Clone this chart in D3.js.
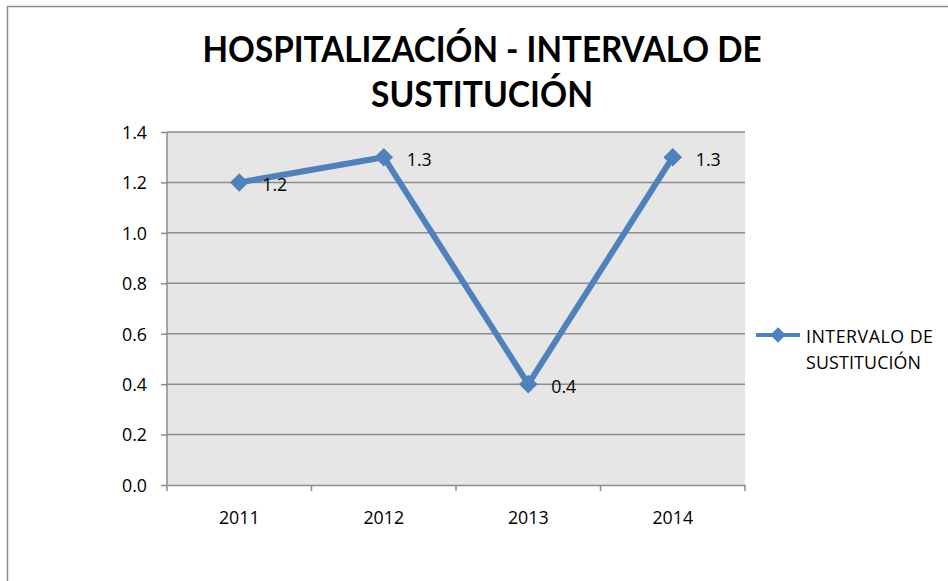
<!DOCTYPE html>
<html>
<head>
<meta charset="utf-8">
<script src="https://cdn.jsdelivr.net/npm/d3@7"></script>
<style>
  body { margin: 0; background: #fff; }
  svg text { font-family: "Open Sans", "DejaVu Sans", sans-serif; fill: #000; }
</style>
</head>
<body>
<div id="chart"></div>
<script>
var years = ["2011", "2012", "2013", "2014"];
var values = [1.2, 1.3, 0.4, 1.3];
var yTicks = [0, 0.2, 0.4, 0.6, 0.8, 1.0, 1.2, 1.4];
var titleLines = ["HOSPITALIZACIÓN - INTERVALO DE", "SUSTITUCIÓN"];
var seriesName = ["INTERVALO DE", "SUSTITUCIÓN"];

var width = 948, height = 581;
var plot = { left: 167, right: 745, top: 132, bottom: 485 };
var blue = "#4f81bd";
var gray = "#8c8c8c";
var labelSize = 17.8;

var svg = d3.select("#chart").append("svg")
  .attr("width", width)
  .attr("height", height);

// outer chart frame (only left/top edges visible)
svg.append("rect")
  .attr("x", 7.5).attr("y", 6.5)
  .attr("width", 960).attr("height", 600)
  .attr("fill", "none")
  .attr("stroke", gray)
  .attr("stroke-width", 1.5);

var x = d3.scaleBand()
  .domain(years)
  .range([plot.left, plot.right]);

var y = d3.scaleLinear()
  .domain([0, 1.4])
  .range([plot.bottom, plot.top]);

// plot background
svg.append("rect")
  .attr("x", plot.left).attr("y", plot.top)
  .attr("width", plot.right - plot.left)
  .attr("height", plot.bottom - plot.top)
  .attr("fill", "#e6e6e6");

// gridlines
svg.append("g")
  .selectAll("line")
  .data(yTicks.filter(d => d > 0))
  .enter().append("line")
  .attr("x1", plot.left).attr("x2", plot.right)
  .attr("y1", d => y(d)).attr("y2", d => y(d))
  .attr("stroke", gray)
  .attr("stroke-width", 1.5);

// y axis
var yAxis = svg.append("g")
  .attr("transform", "translate(" + plot.left + ",0)")
  .call(d3.axisLeft(y).tickValues(yTicks).tickFormat(d3.format(".1f")).tickSize(6).tickPadding(14));

// x axis with ticks on category boundaries
var xAxis = svg.append("g")
  .attr("transform", "translate(0," + plot.bottom + ")")
  .call(d3.axisBottom(x).tickSize(0).tickPadding(28));

xAxis.selectAll(".boundary")
  .data(years.concat(["end"]))
  .enter().append("line")
  .attr("class", "boundary")
  .attr("x1", (d, i) => plot.left + i * x.bandwidth())
  .attr("x2", (d, i) => plot.left + i * x.bandwidth())
  .attr("y1", 0).attr("y2", 6)
  .attr("stroke", gray)
  .attr("stroke-width", 1.5);

[yAxis, xAxis].forEach(function(a) {
  a.attr("font-size", labelSize).attr("font-family", "Open Sans, sans-serif");
  a.select(".domain").attr("stroke", gray).attr("stroke-width", 1.5);
  a.selectAll(".tick line").attr("stroke", gray).attr("stroke-width", 1.5);
  a.selectAll("text").attr("fill", "#000");
});
yAxis.select(".domain").attr("d", "M0," + plot.bottom + "V" + plot.top);
xAxis.selectAll("text").attr("dy", "0.6em");
yAxis.selectAll("text").attr("dy", "0.36em");

// series line
var cx = d => x(d) + x.bandwidth() / 2;

var line = d3.line()
  .x((d, i) => cx(years[i]))
  .y(d => y(d));

svg.append("path")
  .datum(values)
  .attr("d", line)
  .attr("fill", "none")
  .attr("stroke", blue)
  .attr("stroke-width", 6)
  .attr("stroke-linejoin", "round");

var diamond = d3.symbol().type(d3.symbolDiamond2).size(220);

svg.append("g")
  .selectAll("path")
  .data(values)
  .enter().append("path")
  .attr("d", diamond)
  .attr("transform", (d, i) => "translate(" + cx(years[i]) + "," + y(d) + ")")
  .attr("fill", blue);

// data labels
svg.append("g")
  .selectAll("text")
  .data(values)
  .enter().append("text")
  .attr("x", (d, i) => cx(years[i]) + 23)
  .attr("y", d => y(d) + 8.5)
  .attr("font-size", labelSize)
  .text(d => d3.format(".1f")(d));

// title
svg.append("g")
  .selectAll("text")
  .data(titleLines)
  .enter().append("text")
  .attr("x", 482)
  .attr("y", (d, i) => 62 + i * 44.5)
  .attr("text-anchor", "middle")
  .attr("font-size", 36)
  .attr("font-weight", "bold")
  .style("font-family", "Lato, 'Open Sans', sans-serif")
  .attr("textLength", (d, i) => i === 0 ? 559 : 222)
  .attr("lengthAdjust", "spacingAndGlyphs")
  .text(d => d);

// legend
var legend = svg.append("g").attr("transform", "translate(756,335)");
legend.append("line")
  .attr("x1", 0).attr("x2", 44)
  .attr("y1", 0).attr("y2", 0)
  .attr("stroke", blue)
  .attr("stroke-width", 4);
legend.append("path")
  .attr("d", d3.symbol().type(d3.symbolDiamond2).size(150))
  .attr("transform", "translate(22,0)")
  .attr("fill", blue);
legend.selectAll("text")
  .data(seriesName)
  .enter().append("text")
  .attr("x", 50)
  .attr("y", (d, i) => 8 + i * 26)
  .attr("font-size", labelSize)
  .attr("textLength", (d, i) => i === 0 ? 127 : 115)
  .attr("lengthAdjust", "spacing")
  .text(d => d);
</script>
</body>
</html>
